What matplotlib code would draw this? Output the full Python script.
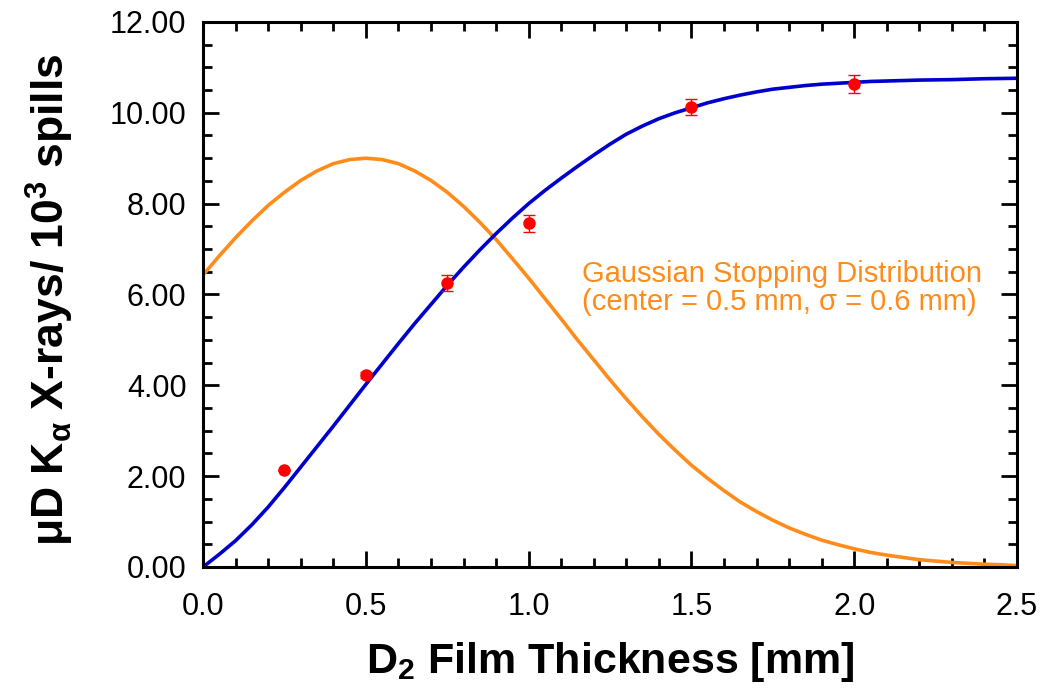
import matplotlib
matplotlib.use('agg')
import matplotlib.pyplot as plt
from matplotlib.ticker import MultipleLocator, FormatStrFormatter

# measured points (x in mm, counts per 1e3 spills)
thick = [0.25, 0.5, 0.75, 1.0, 1.5, 2.0]
counts = [2.13, 4.23, 6.25, 7.57, 10.13, 10.63]
count_err = [0.0, 0.06, 0.17, 0.19, 0.18, 0.20]

# curves every 0.05 mm
grid_x = [0.0, 0.05, 0.1, 0.15, 0.2, 0.25, 0.3, 0.35, 0.4, 0.45, 0.5,
          0.55, 0.6, 0.65, 0.7, 0.75, 0.8, 0.85, 0.9, 0.95, 1.0,
          1.05, 1.1, 1.15, 1.2, 1.25, 1.3, 1.35, 1.4, 1.45, 1.5,
          1.55, 1.6, 1.65, 1.7, 1.75, 1.8, 1.85, 1.9, 1.95, 2.0,
          2.05, 2.1, 2.15, 2.2, 2.25, 2.3, 2.35, 2.4, 2.45, 2.5]
fit_y = [0.0, 0.28, 0.58, 0.93, 1.32, 1.75, 2.20, 2.65, 3.10, 3.56, 4.02,
         4.47, 4.92, 5.36, 5.78, 6.20, 6.60, 6.98, 7.34, 7.68, 8.00,
         8.29, 8.56, 8.82, 9.07, 9.31, 9.53, 9.71, 9.87, 10.00, 10.11,
         10.22, 10.31, 10.39, 10.46, 10.52, 10.56, 10.60, 10.63, 10.65, 10.67,
         10.69, 10.70, 10.71, 10.72, 10.725, 10.73, 10.74, 10.75, 10.755, 10.76]
gauss_y = [6.43, 6.85, 7.25, 7.62, 7.96, 8.25, 8.51, 8.72, 8.88, 8.97, 9.00,
           8.97, 8.88, 8.72, 8.51, 8.25, 7.94, 7.59, 7.21, 6.79, 6.36,
           5.91, 5.46, 5.00, 4.56, 4.12, 3.70, 3.30, 2.92, 2.57, 2.24,
           1.95, 1.68, 1.43, 1.22, 1.03, 0.86, 0.72, 0.59, 0.49, 0.40,
           0.32, 0.26, 0.21, 0.16, 0.13, 0.10, 0.08, 0.06, 0.05, 0.03]

plt.rcParams['font.family'] = ['Liberation Sans', 'DejaVu Sans']
plt.rcParams['mathtext.fontset'] = 'custom'
plt.rcParams['mathtext.rm'] = 'Liberation Sans:bold'
plt.rcParams['mathtext.it'] = 'Liberation Sans:bold'
plt.rcParams['mathtext.bf'] = 'Liberation Sans:bold'

fig = plt.figure(figsize=(10.57, 6.88), dpi=100)
ax = fig.add_axes([0.1921, 0.1759, 0.7701, 0.7922])

ax.plot(grid_x, gauss_y, color='#ff8c1a', lw=2.6)
ax.plot(grid_x, fit_y, color='#0000cc', lw=2.6)
ax.errorbar(thick, counts, yerr=count_err, fmt='o', color='#ff0000',
            ms=8, elinewidth=1.0, capsize=4, capthick=1.0, zorder=5)

ax.text(1.163, 6.15, 'Gaussian Stopping Distribution\n(center = 0.5 mm, \u03c3 = 0.6 mm)',
        color='#ff8c1a', fontsize=21, ha='left', va='center', linespacing=1.0)

ax.set_xlim(0, 2.5)
ax.set_ylim(0, 12)
ax.xaxis.set_major_locator(MultipleLocator(0.5))
ax.xaxis.set_minor_locator(MultipleLocator(0.1))
ax.yaxis.set_major_locator(MultipleLocator(2))
ax.yaxis.set_minor_locator(MultipleLocator(0.5))
ax.xaxis.set_major_formatter(FormatStrFormatter('%.1f'))
ax.yaxis.set_major_formatter(FormatStrFormatter('%.2f'))

for s in ax.spines.values():
    s.set_linewidth(2.2)
ax.tick_params(which='both', direction='in', top=True, right=True, width=2.0)
ax.tick_params(which='major', length=11.5, labelsize=22)
ax.tick_params(which='minor', length=6.5)
ax.tick_params(axis='x', which='major', pad=18)
ax.tick_params(axis='y', which='major', pad=12)

ax.set_xlabel(r'D$_2$ Film Thickness [mm]', fontsize=31, fontweight='bold', labelpad=13)
ax.set_ylabel('\u03bcD K$_{\\alpha}$ X-rays/ 10$^3$ spills',
              fontsize=32, fontweight='bold', labelpad=24)
ax.yaxis.label.set_y(0.49)

fig.savefig('out.png', dpi=100)
